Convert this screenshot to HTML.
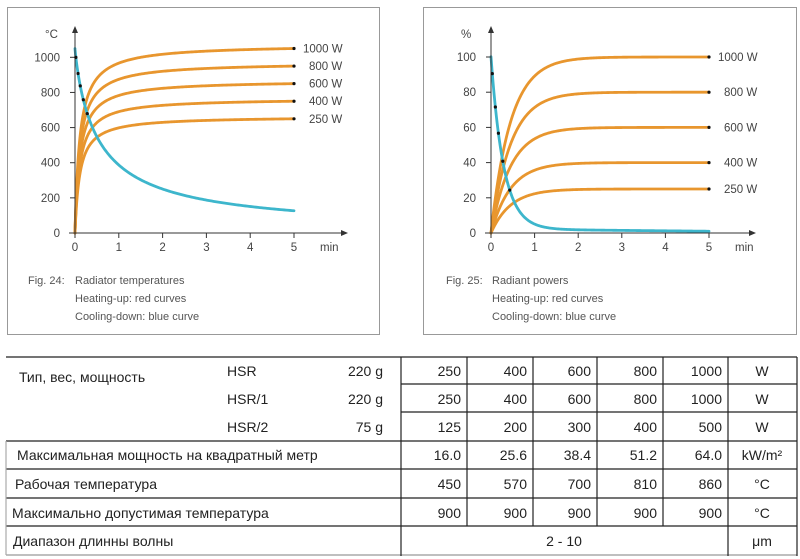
<!DOCTYPE html>
<html><head><meta charset="utf-8"><style>
html,body{margin:0;padding:0;background:#fff;width:800px;height:559px;overflow:hidden}
svg{display:block}
.ax{font-family:"Liberation Sans",sans-serif;font-size:11.5px;fill:#444}
.cap{font-family:"Liberation Sans",sans-serif;font-size:11px;fill:#555}
.tb{font-family:"Liberation Sans","Noto Sans CJK SC",sans-serif;font-size:14px;fill:#222}
</style></head><body>
<svg id="s" width="800" height="559" viewBox="0 0 800 559" xmlns="http://www.w3.org/2000/svg">
<rect width="800" height="559" fill="#fff"/>
<rect x="7.5" y="7.5" width="372" height="327" fill="none" stroke="#999" stroke-width="1"/>
<rect x="423.5" y="7.5" width="373" height="327" fill="none" stroke="#999" stroke-width="1"/>
<g id="g1"></g><g id="g2"></g>
<text class="cap" x="28" y="284">Fig. 24:</text>
<text class="cap" x="75" y="284">Radiator temperatures</text>
<text class="cap" x="75" y="302">Heating-up: red curves</text>
<text class="cap" x="75" y="320">Cooling-down: blue curve</text>
<text class="cap" x="446" y="284">Fig. 25:</text>
<text class="cap" x="492" y="284">Radiant powers</text>
<text class="cap" x="492" y="302">Heating-up: red curves</text>
<text class="cap" x="492" y="320">Cooling-down: blue curve</text>
<g stroke="#222" stroke-width="1.2">
<line x1="6" y1="357" x2="797" y2="357"/>
<line x1="401" y1="384" x2="797" y2="384"/>
<line x1="401" y1="412" x2="797" y2="412"/>
<line x1="6" y1="441" x2="797" y2="441"/>
<line x1="6" y1="469" x2="797" y2="469"/>
<line x1="6" y1="498" x2="797" y2="498"/>
<line x1="6" y1="526" x2="797" y2="526"/>
<line x1="6" y1="555" x2="797" y2="555" stroke="#999"/>
<line x1="401" y1="357" x2="401" y2="556"/>
<line x1="467" y1="357" x2="467" y2="526"/>
<line x1="533" y1="357" x2="533" y2="526"/>
<line x1="597" y1="357" x2="597" y2="526"/>
<line x1="663" y1="357" x2="663" y2="526"/>
<line x1="728" y1="357" x2="728" y2="556"/>
<line x1="797" y1="357" x2="797" y2="556"/>
<line x1="6" y1="441" x2="6" y2="555" stroke="#aaa"/>
</g>
<g id="tbl"></g>
</svg>
<script>
var NS="http://www.w3.org/2000/svg";
function el(p,t,a,txt){var e=document.createElementNS(NS,t);for(var k in a)e.setAttribute(k,a[k]);if(txt!=null)e.textContent=txt;p.appendChild(e);return e;}
var OR="#E8962E",BL="#3DB6CC";
function chart(g,ox,oy,sx,sy,yt,ylab,heat,cool,ends,dotsB,xmax){
 ends.forEach(function(E){var d="";for(var i=0;i<=200;i++){var t=5*Math.pow(i/200,1.6);var v=heat(t,E);d+=(i?"L":"M")+(ox+t*sx).toFixed(2)+","+(oy-v*sy).toFixed(2);}
  el(g,"path",{d:d,fill:"none",stroke:OR,"stroke-width":2.8,"stroke-linecap":"round"});});
 var d="";for(var i=0;i<=200;i++){var t=5*Math.pow(i/200,1.8);var v=cool(t);d+=(i?"L":"M")+(ox+t*sx).toFixed(2)+","+(oy-v*sy).toFixed(2);}
 el(g,"path",{d:d,fill:"none",stroke:BL,"stroke-width":2.8,"stroke-linecap":"round"});
 el(g,"line",{x1:ox-6,y1:oy,x2:xmax,y2:oy,stroke:"#333","stroke-width":1});
 el(g,"path",{d:"M"+(xmax+6)+","+oy+"l-7,-3v6z",fill:"#333"});
 el(g,"line",{x1:ox,y1:oy+4,x2:ox,y2:30,stroke:"#333","stroke-width":1});
 el(g,"path",{d:"M"+ox+",26l-3,7h6z",fill:"#333"});
 for(var k=0;k<=5;k++){var x=ox+k*sx;el(g,"line",{x1:x,y1:oy,x2:x,y2:oy+5,stroke:"#333"});el(g,"text",{class:"ax",x:x,y:oy+18,"text-anchor":"middle"},k);}
 el(g,"text",{class:"ax",x:ox+5*sx+26,y:oy+18},"min");
 yt.forEach(function(v){var y=oy-v*sy;el(g,"line",{x1:ox-5,y1:y,x2:ox,y2:y,stroke:"#333"});el(g,"text",{class:"ax",x:ox-15,y:y+4,"text-anchor":"end"},v);});
 el(g,"text",{class:"ax",x:ox-30,y:38},ylab);
 ends.forEach(function(E,i){var y=oy-E[0]*sy;el(g,"circle",{cx:ox+5*sx,cy:y,r:1.6,fill:"#111"});el(g,"text",{class:"ax",x:ox+5*sx+(E[1]=="1000 W"?9:15),y:y+4},E[1]);});
 dotsB.forEach(function(t){el(g,"circle",{cx:ox+t*sx,cy:oy-cool(t)*sy,r:1.6,fill:"#111"});});
}
chart(document.getElementById("g1"),75,233,43.8,0.1757,[0,200,400,600,800,1000],"°C",
 function(t,E){var c=0.11;return E[0]*(5+c)/5*t/(t+c);},
 function(t){return 1050/(1+Math.pow(t/0.55,0.9));},
 [[1050,"1000 W"],[950,"800 W"],[850,"600 W"],[750,"400 W"],[650,"250 W"]],[0.02,0.07,0.12,0.19,0.28],342);
chart(document.getElementById("g2"),491,233,43.6,1.76,[0,20,40,60,80,100],"%",
 function(t,E){return E[0]*(1-Math.exp(-t/0.45));},
 function(t){return 98*Math.exp(-t/0.29)+2.2-0.24*t;},
 [[100,"1000 W"],[80,"800 W"],[60,"600 W"],[40,"400 W"],[25,"250 W"]],[0.03,0.1,0.17,0.27,0.43],750);
var T=document.getElementById("tbl");
function tx(x,y,s,a){el(T,"text",{class:"tb",x:x,y:y,"text-anchor":a||"start"},s);}
var rows=[[376,["250","400","600","800","1000"],"W"],[404,["250","400","600","800","1000"],"W"],[432,["125","200","300","400","500"],"W"],
[460,["16.0","25.6","38.4","51.2","64.0"],"kW/m²"],[489,["450","570","700","810","860"],"°C"],[518,["900","900","900","900","900"],"°C"]];
var rc=[461,527,591,657,722];
rows.forEach(function(r){r[1].forEach(function(v,i){tx(rc[i],r[0],v,"end");});tx(762,r[0],r[2],"middle");});
tx(19,382,"Тип, вес, мощность");
tx(227,376,"HSR");tx(383,376,"220 g","end");
tx(227,404,"HSR/1");tx(383,404,"220 g","end");
tx(227,432,"HSR/2");tx(383,432,"75 g","end");
tx(17,460,"Максимальная мощность на квадратный метр");
tx(15,489,"Рабочая температура");
tx(12,518,"Максимально допустимая температура");
tx(13,546,"Диапазон длинны волны");
tx(564,546,"2   -   10","middle");
tx(762,546,"μm","middle");
</script>
</body></html>
